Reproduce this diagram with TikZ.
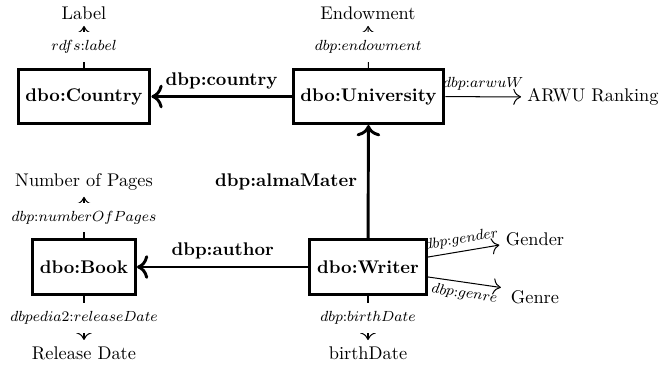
\documentclass[tikz,border=0pt]{standalone}
\usetikzlibrary{arrows.meta}
\begin{document}
\begin{tikzpicture}[x=0.545pt,y=-0.545pt,
  cls/.style={draw, line width=1.6pt, font=\bfseries, minimum height=29.5pt, inner xsep=4pt},
  rel/.style={-{To[scale=1.2]}, line width=1.6pt},
  relbl/.style={font=\bfseries},
  attr/.style={-{To[scale=1.5]}, line width=0.55pt},
  albl/.style={font=\footnotesize, fill=white, inner xsep=1pt, inner ysep=4.5pt},
  slbl/.style={font=\footnotesize, sloped, inner sep=2.5pt}]
\useasboundingbox (0,0) rectangle (661,367);

% classes
\node[cls, minimum width=70pt]   (country) at (84,96.5)   {dbo:Country};
\node[cls, minimum width=80.5pt] (univ)    at (368.5,96.5) {dbo:University};
\node[cls, minimum width=54pt]   (book)    at (84,267)    {dbo:Book};
\node[cls, minimum width=61.5pt] (writer)  at (368,267)   {dbo:Writer};

% values
\node (label)   at (84,13)   {Label};
\node (endow)   at (368,13)  {Endowment};
\node (arwu)    at (593,97)  {ARWU Ranking};
\node (pages)   at (84,182)  {Number of Pages};
\node (release) at (84,353)  {Release Date};
\node (birth)   at (368,353) {birthDate};
\node (gender)  at (535,239) {Gender};
\node (genre)   at (535,297) {Genre};

% relations between classes
\draw[rel] (univ) -- node[relbl, above] {dbp:country} (country);
\draw[rel] (writer) -- node[relbl, left, xshift=-2pt] {dbp:almaMater} (univ);
\draw[rel] (writer) -- node[relbl, above] {dbp:author} (book);

% attributes
\draw[attr] (country) -- node[albl] {$rdfs{:}label$} (label);
\draw[attr] (univ) -- node[albl] {$dbp{:}endowment$} (endow);
\draw[attr] (univ) -- node[font=\footnotesize, above, inner sep=3pt] {$dbp{:}arwuW$} (arwu);
\draw[attr] (book) -- node[albl] {$dbp{:}numberOfPages$} (pages);
\draw[attr] (book) -- node[albl] {$dbpedia2{:}releaseDate$} (release);
\draw[attr] (writer) -- node[albl] {$dbp{:}birthDate$} (birth);
\draw[attr] ([yshift=5.4pt]writer.east) -- node[slbl, above] {$dbp{:}gender$} ([yshift=-3.3pt]gender.west);
\draw[attr, shorten >=2pt] ([yshift=-5.4pt]writer.east) -- node[slbl, below] {$dbp{:}genre$} ([yshift=4.9pt]genre.west);
\end{tikzpicture}
\end{document}
